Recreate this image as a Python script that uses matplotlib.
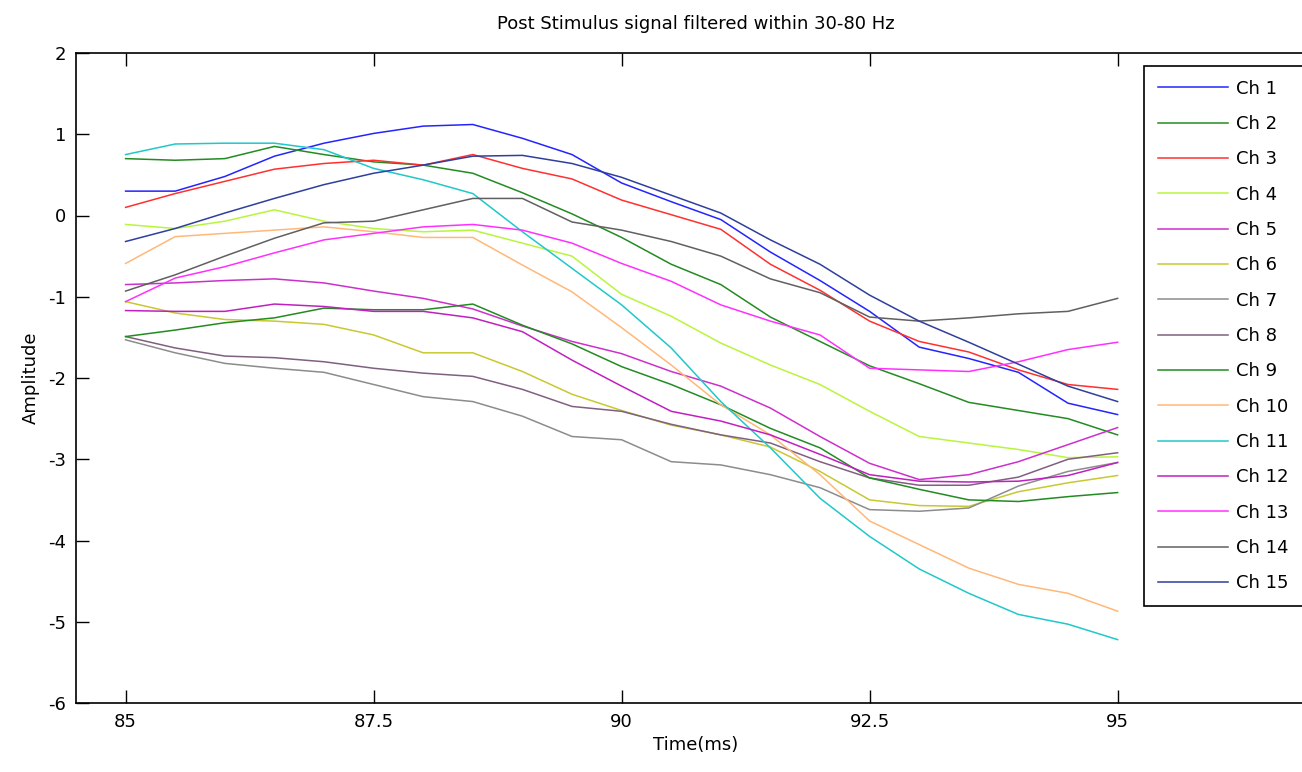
import numpy as np
import matplotlib
matplotlib.use("Agg")
import matplotlib.pyplot as plt

# time axis (ms), sampled every 0.5 ms
t = np.arange(85, 95.01, 0.5)

ch1 = [0.30, 0.30, 0.48, 0.73, 0.89, 1.01, 1.10, 1.12, 0.95, 0.75, 0.40, 0.17, -0.05, -0.45, -0.80, -1.18, -1.62, -1.76, -1.93, -2.31, -2.45]
ch2 = [0.70, 0.68, 0.70, 0.85, 0.75, 0.66, 0.62, 0.52, 0.28, 0.02, -0.27, -0.60, -0.85, -1.25, -1.55, -1.85, -2.07, -2.30, -2.40, -2.50, -2.70]
ch3 = [0.10, 0.27, 0.42, 0.57, 0.64, 0.68, 0.62, 0.75, 0.58, 0.45, 0.19, 0.01, -0.17, -0.60, -0.92, -1.30, -1.55, -1.68, -1.90, -2.08, -2.14]
ch4 = [-0.11, -0.16, -0.07, 0.07, -0.07, -0.16, -0.20, -0.18, -0.34, -0.50, -0.97, -1.24, -1.57, -1.84, -2.08, -2.41, -2.72, -2.80, -2.88, -2.98, -2.97]
ch5 = [-0.85, -0.83, -0.80, -0.78, -0.83, -0.93, -1.02, -1.15, -1.36, -1.55, -1.70, -1.92, -2.10, -2.37, -2.72, -3.05, -3.25, -3.19, -3.03, -2.82, -2.61]
ch6 = [-1.06, -1.20, -1.28, -1.30, -1.34, -1.47, -1.69, -1.69, -1.92, -2.20, -2.40, -2.58, -2.70, -2.85, -3.15, -3.50, -3.57, -3.58, -3.40, -3.29, -3.20]
ch7 = [-1.53, -1.69, -1.82, -1.88, -1.93, -2.08, -2.23, -2.29, -2.47, -2.72, -2.76, -3.03, -3.07, -3.19, -3.35, -3.62, -3.64, -3.60, -3.33, -3.15, -3.04]
ch8 = [-1.49, -1.63, -1.73, -1.75, -1.80, -1.88, -1.94, -1.98, -2.14, -2.35, -2.41, -2.57, -2.70, -2.80, -3.03, -3.23, -3.32, -3.32, -3.22, -3.00, -2.92]
ch9 = [-1.49, -1.41, -1.32, -1.26, -1.14, -1.16, -1.16, -1.09, -1.35, -1.58, -1.86, -2.08, -2.33, -2.62, -2.86, -3.23, -3.37, -3.50, -3.52, -3.46, -3.41]
ch10 = [-0.59, -0.26, -0.22, -0.18, -0.14, -0.20, -0.27, -0.27, -0.61, -0.94, -1.38, -1.84, -2.33, -2.70, -3.19, -3.76, -4.05, -4.34, -4.54, -4.65, -4.87]
ch11 = [0.75, 0.88, 0.89, 0.89, 0.81, 0.58, 0.44, 0.27, -0.20, -0.65, -1.10, -1.63, -2.29, -2.86, -3.48, -3.95, -4.35, -4.65, -4.91, -5.03, -5.22]
ch12 = [-1.17, -1.18, -1.18, -1.09, -1.12, -1.18, -1.18, -1.26, -1.43, -1.78, -2.10, -2.41, -2.53, -2.70, -2.94, -3.19, -3.27, -3.28, -3.27, -3.20, -3.04]
ch13 = [-1.06, -0.77, -0.63, -0.46, -0.30, -0.22, -0.14, -0.11, -0.18, -0.34, -0.59, -0.81, -1.10, -1.30, -1.47, -1.88, -1.90, -1.92, -1.80, -1.65, -1.56]
ch14 = [-0.93, -0.73, -0.50, -0.28, -0.09, -0.07, 0.07, 0.21, 0.21, -0.08, -0.18, -0.32, -0.50, -0.78, -0.95, -1.25, -1.30, -1.26, -1.21, -1.18, -1.02]
ch15 = [-0.32, -0.16, 0.03, 0.21, 0.38, 0.52, 0.62, 0.73, 0.74, 0.64, 0.47, 0.25, 0.03, -0.30, -0.60, -0.98, -1.30, -1.56, -1.83, -2.10, -2.29]

channels = [ch1, ch2, ch3, ch4, ch5, ch6, ch7, ch8, ch9, ch10, ch11, ch12, ch13, ch14, ch15]
labels = ["Ch %d" % (i + 1) for i in range(15)]
colors = ['#2424ff', '#228b22', '#ff3030', '#b8f53c', '#cc30cc', '#c8c832', '#8c8c8c', '#806080',
          '#228b22', '#ffb878', '#20c8c8', '#c020c0', '#ff30ff', '#606060', '#2e3f9e']

plt.rcParams['font.family'] = ['DejaVu Sans']
plt.rcParams['axes.unicode_minus'] = False
fig = plt.figure(figsize=(13.02, 7.72), dpi=100)
# axes run past the right edge of the picture, as in the original
ax = fig.add_axes([76 / 1302, 69 / 772, (1316 - 76) / 1302, 650 / 772])

for y, lab, c in zip(channels, labels, colors):
    ax.plot(t, y, color=c, lw=1.1, label=lab)

ax.set_xlim(84.5, 97)
ax.set_ylim(-6, 2)
ax.set_xticks([85, 87.5, 90, 92.5, 95])
ax.set_xticklabels(['85', '87.5', '90', '92.5', '95'])
ax.set_yticks(np.arange(-6, 2.1, 1))
ax.tick_params(direction='in', length=9.7, width=1, labelsize=13, pad=7,
               top=True, right=True)
for s in ax.spines.values():
    s.set_linewidth(1.2)

ax.set_title("Post Stimulus signal filtered within 30-80 Hz", fontsize=13, pad=17)
ax.set_xlabel("Time(ms)", fontsize=13, labelpad=4)
ax.set_ylabel("Amplitude", fontsize=13, labelpad=6)

leg = ax.legend(loc='upper left', bbox_to_anchor=(1144 / 1302, 1 - 66 / 772 - 0.01, 200 / 1302, 0.01),
                bbox_transform=fig.transFigure, mode='expand', borderaxespad=0, fancybox=False,
                edgecolor='black', fontsize=13, handlelength=3.9, handletextpad=0.45,
                labelspacing=0.96, borderpad=0.75, framealpha=1)
leg.get_frame().set_linewidth(1.2)

fig.savefig("out.png", dpi=100)
